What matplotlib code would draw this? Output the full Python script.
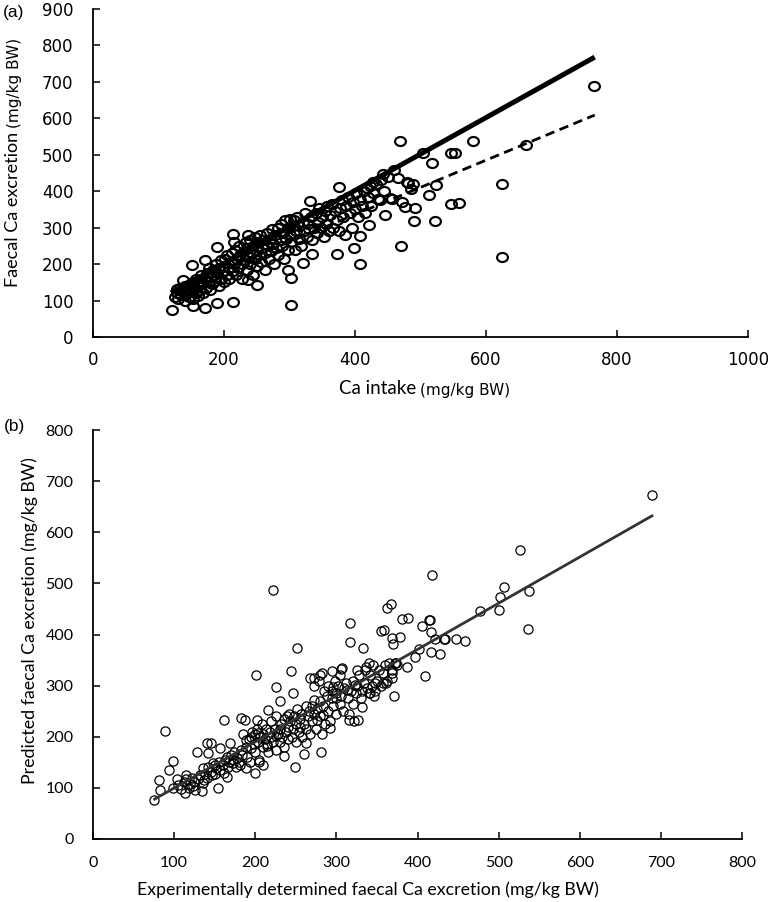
import matplotlib
matplotlib.use("Agg")
import matplotlib.pyplot as plt
from matplotlib.path import Path
from matplotlib.transforms import Affine2D

W, H = 771, 902

# ── panel (a): Ca intake vs faecal Ca excretion ──────────────────────────────
# dense cloud (intake, excretion), mg/kg BW
cloud_a = [
    (125,110),(128,120),(130,105),(133,135),(135,115),(137,125),(140,100),(140,140),(142,118),(145,130),
    (147,110),(148,145),(150,125),(152,105),(153,150),(155,135),(157,120),(158,160),(160,140),(160,112),
    (162,150),(164,128),(165,170),(167,145),(168,120),(170,160),(172,135),(174,175),(175,150),(177,190),
    (178,130),(180,165),(182,145),(183,185),(185,170),(187,155),(188,200),(190,175),(192,140),(193,190),
    (195,210),(196,160),(198,180),(200,195),(200,150),(202,215),(204,170),(205,225),(207,190),(208,160),
    (210,205),(212,230),(213,180),(215,200),(217,240),(218,170),(220,215),(222,190),(223,250),(225,225),
    (227,200),(228,160),(230,235),(232,210),(233,260),(235,185),(237,245),(238,220),(240,200),(240,265),
    (242,230),(244,170),(245,250),(247,215),(248,275),(250,235),(250,195),(252,260),(254,225),(255,280),
    (257,205),(258,245),(260,265),(262,185),(263,230),(265,285),(267,250),(268,215),(270,270),(272,235),
    (273,295),(275,255),(277,200),(278,280),(280,245),(282,300),(283,225),(285,265),(287,310),(288,250),
    (290,285),(292,215),(293,320),(295,270),(297,240),(298,300),(300,280),(300,325),(303,260),(305,305),
    (307,320),(308,240),(310,290),(312,330),(314,270),(315,305),(318,250),(320,315),(322,290),(324,340),
    (326,275),(328,310),(330,295),(333,330),(335,265),(337,300),(340,340),(342,285),(344,315),(345,355),
    (348,300),(350,330),(352,275),(354,345),(356,310),(358,360),(360,290),(362,335),(365,365),(367,300),
    (370,345),(372,320),(375,290),(377,355),(380,375),(382,330),(385,280),(387,360),(390,385),(392,340),
    (395,300),(397,370),(400,350),(402,395),(405,330),(408,375),(410,360),(413,400),(415,340),(418,410),
    (420,385),(423,415),(425,360),(428,395),(432,420),(435,380),(440,430),(445,400),(450,440),(427,425),
]
# scattered points away from the cloud
outer_a = [
    (121,74),(153,85),(171,80),(189,94),(213,97),(302,89),(303,163),(297,184),(408,200),(320,204),
    (335,228),(373,228),(399,244),(408,278),(421,306),(446,335),(376,411),(332,372),(189,248),(213,282),
    (151,198),(171,211),(137,156),(128,131),(250,143),(237,156),(237,280),(215,262),
    (469,538),(580,538),(765,689),(661,527),(547,505),(553,505),(517,477),(504,505),(624,419),(523,417),
    (513,389),(547,365),(559,368),(522,318),(490,318),(491,354),(476,357),(472,370),(456,379),(470,250),
    (625,220),(489,419),(481,423),(485,407),(465,436),(459,458),(443,447),(438,376),(453,381),(479,425),
]
# fitted lines: solid and dashed
solid_a_x = [119, 766]
solid_a_y = [121, 768]
dash_a_x = [120, 766]
dash_a_y = [127, 609]
xticks_a = [0, 200, 400, 600, 800, 1000]
yticks_a = [0, 100, 200, 300, 400, 500, 600, 700, 800, 900]

# ── panel (b): determined vs predicted faecal Ca ─────────────────────────────
cloud_b = [
    (105,105),(108,98),(112,112),(115,118),(118,100),(120,108),(122,120),(125,112),(126,95),(130,118),
    (132,125),(135,110),(138,128),(140,120),(142,140),(145,132),(147,125),(150,145),(150,128),(152,138),
    (155,150),(157,135),(160,145),(162,130),(163,155),(165,160),(167,140),(168,150),(170,165),(172,148),
    (174,170),(176,140),(178,158),(180,150),(182,175),(184,165),(185,205),(188,180),(190,160),(192,195),
    (194,150),(195,200),(196,210),(198,185),(200,170),(200,205),(202,215),(204,190),(205,150),(206,200),
    (208,225),(210,180),(210,205),(212,195),(213,215),(215,185),(216,170),(218,210),(220,200),(220,230),
    (222,190),(224,215),(225,175),(226,240),(228,205),(230,215),(230,190),(232,225),(233,200),(235,235),
    (236,180),(238,210),(240,220),(240,195),(242,245),(243,230),(245,200),(246,215),(248,240),(250,225),
    (250,190),(252,255),(254,210),(255,235),(257,245),(258,200),(260,225),(262,260),(263,215),(265,240),
    (266,250),(268,205),(270,230),(270,260),(272,245),(273,300),(275,215),(276,255),(278,310),(280,240),
    (280,270),(282,205),(284,260),(285,290),(286,225),(288,280),(290,300),(290,250),(292,230),(294,275),
    (295,290),(296,260),(298,310),(300,245),(300,285),(302,300),(304,265),(305,320),(306,280),(308,250),
    (310,295),(312,305),(314,275),(315,245),(318,290),(320,310),(320,265),(322,230),(324,285),(326,300),
    (328,320),(330,275),(332,290),(334,305),(335,330),(338,295),(340,285),(342,320),(344,300),(345,340),
    (348,290),(350,310),(352,330),(355,300),(358,325),(360,340),(362,310),(365,345),(368,330),
]
outer_b = [
    (75,77),(81,116),(83,96),(89,212),(94,135),(98,152),(99,100),(103,117),(113,90),(115,126),
    (123,103),(128,171),(134,93),(136,139),(137,116),(140,188),(142,168),(146,188),(148,149),(154,100),
    (156,178),(161,232),(165,122),(169,188),(173,155),(181,145),(183,236),(187,233),(188,194),(189,139),
    (195,178),(200,129),(201,320),(202,233),(204,207),(205,155),(210,145),(214,181),(216,253),(222,488),
    (226,201),(226,297),(230,269),(235,162),(239,240),(244,328),(249,141),(247,285),(251,373),(255,220),
    (260,167),(263,188),(267,315),(272,272),(276,233),(281,171),(282,324),(284,243),(292,217),(294,328),
    (296,298),(300,276),(307,334),(313,292),(315,233),(317,422),(317,386),(323,302),(327,233),(331,259),
    (333,373),(337,337),(342,285),(346,279),(348,305),(372,345),(340,345),(325,331),(306,332),(280,321),
    (272,314),(355,406),(359,409),(363,451),(367,459),(358,306),(361,305),(368,315),(368,324),(371,280),
    (373,344),(375,341),(379,396),(370,381),(368,393),(381,431),(387,337),(388,432),(397,356),(402,371),
    (406,416),(409,318),(414,429),(415,429),(417,404),(417,366),(418,517),(422,392),(428,362),(433,391),
    (434,391),(447,392),(458,388),(477,445),(500,448),(502,473),(507,493),(526,565),(536,410),(537,485),
    (689,672),
]
line_b_x = [76, 689]
line_b_y = [78, 632]
xticks_b = [0, 100, 200, 300, 400, 500, 600, 700, 800]
yticks_b = [0, 100, 200, 300, 400, 500, 600, 700, 800]


def fx(px):
    return px / W


def fy(py):
    return 1 - py / H


def style_axes(ax, font, size, padx, pady):
    for s in ["top", "right"]:
        ax.spines[s].set_visible(False)
    for s in ["left", "bottom"]:
        ax.spines[s].set_linewidth(1.3)
    ax.tick_params(direction="in", length=5, width=1.1, labelsize=size)
    ax.tick_params(axis="x", pad=padx)
    ax.tick_params(axis="y", pad=pady)
    for lab in ax.get_xticklabels() + ax.get_yticklabels():
        lab.set_fontfamily(font)


fig = plt.figure(figsize=(W / 100, H / 100), dpi=100)
rend = fig.canvas.get_renderer()

# ── (a) ──
ax1 = fig.add_axes([fx(93), fy(337), (748 - 93) / W, (337 - 9) / H])
ellipse = Affine2D().scale(1.2, 1.0).transform_path(Path.unit_circle())
pts_a = cloud_a + outer_a
ax1.plot([p[0] for p in pts_a], [p[1] for p in pts_a], ls="none", marker=ellipse,
         ms=7.8, mfc="none", mec="black", mew=1.55, zorder=2)
ax1.plot(solid_a_x, solid_a_y, color="black", lw=3.6, solid_capstyle="butt", zorder=3)
ax1.plot(dash_a_x, dash_a_y, color="black", lw=2.0, ls=(0, (3.4, 2.0)), zorder=3)
ax1.set_xlim(0, 1000)
ax1.set_ylim(0, 900)
ax1.set_xticks(xticks_a)
ax1.set_yticks(yticks_a)
style_axes(ax1, "DejaVu Sans", 12, 10, 14)

fig.text(fx(14), fy(13), "(a)", fontsize=12.5, family="Liberation Sans", ha="center", va="center")

# y label: big part + smaller unit, stacked along the rotated baseline
t1 = fig.text(fx(13), fy(287), "Faecal Ca excretion", rotation=90, fontsize=13,
              family="Lato", ha="center", va="bottom")
h1 = t1.get_window_extent(rend).height
fig.text(fx(14), fy(287 - h1 - 4), "(mg/kg BW)", rotation=90, fontsize=11,
         family="DejaVu Sans", ha="center", va="bottom")

# x label
t2 = fig.text(fx(339), fy(389), "Ca intake", fontsize=13.5, family="Lato",
              ha="left", va="center")
w2 = t2.get_window_extent(rend).width
fig.text(fx(339 + w2 + 4), fy(390), "(mg/kg BW)", fontsize=11, family="DejaVu Sans",
         ha="left", va="center")

# ── (b) ──
ax2 = fig.add_axes([fx(93), fy(839), (742 - 93) / W, (839 - 430) / H])
pts_b = cloud_b + outer_b
ax2.plot([p[0] for p in pts_b], [p[1] for p in pts_b], ls="none", marker="o",
         ms=6.6, mfc="none", mec="black", mew=0.9, zorder=2)
ax2.plot(line_b_x, line_b_y, color="#333333", lw=2.0, zorder=3)
ax2.set_xlim(0, 800)
ax2.set_ylim(0, 800)
ax2.set_xticks(xticks_b)
ax2.set_yticks(yticks_b)
style_axes(ax2, "Lato", 11.5, 12.5, 14)

fig.text(fx(14), fy(426), "(b)", fontsize=12.5, family="Liberation Sans", ha="center", va="center")
fig.text(fx(30), fy(621), "Predicted faecal Ca excretion (mg/kg BW)", rotation=90,
         fontsize=12.8, family="Lato", ha="center", va="center")
fig.text(fx(137), fy(890), "Experimentally determined faecal Ca excretion (mg/kg BW)",
         fontsize=12.8, family="Lato", ha="left", va="center")

fig.savefig("out.png", dpi=100)
